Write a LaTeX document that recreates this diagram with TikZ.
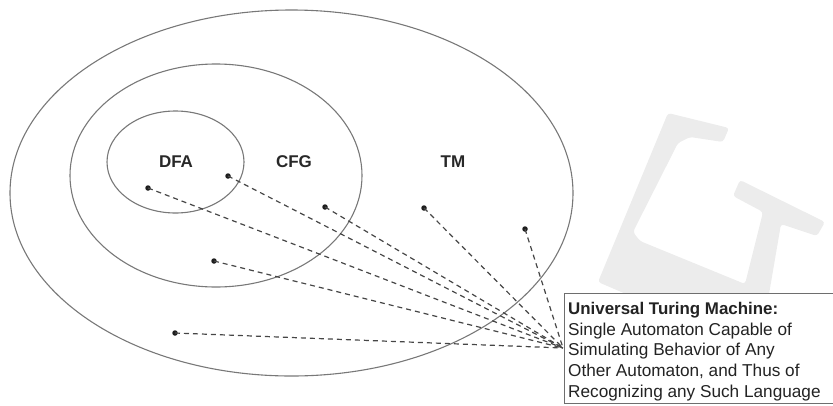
\documentclass[tikz,border=0pt]{standalone}
\usepackage{fontspec}
\setmainfont{Liberation Sans}
\definecolor{wm}{RGB}{236,236,236}
\definecolor{setc}{RGB}{120,120,120}
\definecolor{dotc}{RGB}{30,30,30}
\definecolor{linkc}{RGB}{70,70,70}
\definecolor{lblc}{RGB}{40,40,40}
\definecolor{boxc}{RGB}{110,110,110}
\definecolor{txtc}{RGB}{35,35,35}
\begin{document}
\begin{tikzpicture}[x=1pt,y=-1pt,
  setline/.style={draw=setc,line width=1.1pt},
  dot/.style={circle,fill=dotc,inner sep=0pt,minimum size=5.5pt},
  link/.style={draw=linkc,line width=1.2pt,dash pattern=on 5pt off 4pt},
  lbl/.style={font=\fontsize{17}{20}\selectfont\bfseries,text=lblc},
  boxtext/.style={anchor=base west,inner sep=0pt,font=\fontsize{17.2}{20.7}\selectfont,text=txtc}]
\useasboundingbox (0,0) rectangle (833,405);
\clip (0,0) rectangle (833,405);
% watermark
\fill[wm,rounded corners=3pt]
  (668,113) -- (729,128) -- (723,142) -- (690,137) -- (678,143) -- (633,232) -- (640,241)
  -- (745,284) -- (763,212) -- (733,196) -- (740,180) -- (825,222) -- (817,236) -- (781,224)
  -- (768,300) -- (640,300) -- (598,282) -- cycle;
% sets
\draw[setline] (291.5,193) ellipse [x radius=281.5, y radius=183];
\draw[setline] (216,175.5) ellipse [x radius=146, y radius=111.5];
\draw[setline] (175.5,162) ellipse [x radius=68.5, y radius=51];
\node[lbl] (dfa) at (176,162) {DFA};
\node[lbl] (cfg) at (294,162) {CFG};
\node[lbl] (tm) at (453,162) {TM};
% box
\node[draw=boxc,line width=1.1pt,fill=white,anchor=north west,
  minimum width=290pt,minimum height=110pt,inner sep=0pt] (box) at (564,293) {};
\node[boxtext,font=\fontsize{16.9}{20.7}\selectfont\bfseries] (l1) at (568,314) {Universal Turing Machine:};
\node[boxtext] (l2) at (568,335) {Single Automaton Capable of};
\node[boxtext] (l3) at (568,355.5) {Simulating Behavior of Any};
\node[boxtext] (l4) at (568,376.5) {Other Automaton, and Thus of};
\node[boxtext] (l5) at (568,397) {Recognizing any Such Language};
\coordinate (hub) at (563,348);
% dots
\node[dot] (d1) at (148,188) {};
\node[dot] (d2) at (228,176) {};
\node[dot] (d3) at (325,207) {};
\node[dot] (d4) at (424,208) {};
\node[dot] (d5) at (525,229) {};
\node[dot] (d6) at (214,261) {};
\node[dot] (d7) at (175,333) {};
\foreach \d in {d1,d2,d3,d4,d5,d6,d7}
  \draw[link] (\d.center) -- (hub);
\end{tikzpicture}
\end{document}
